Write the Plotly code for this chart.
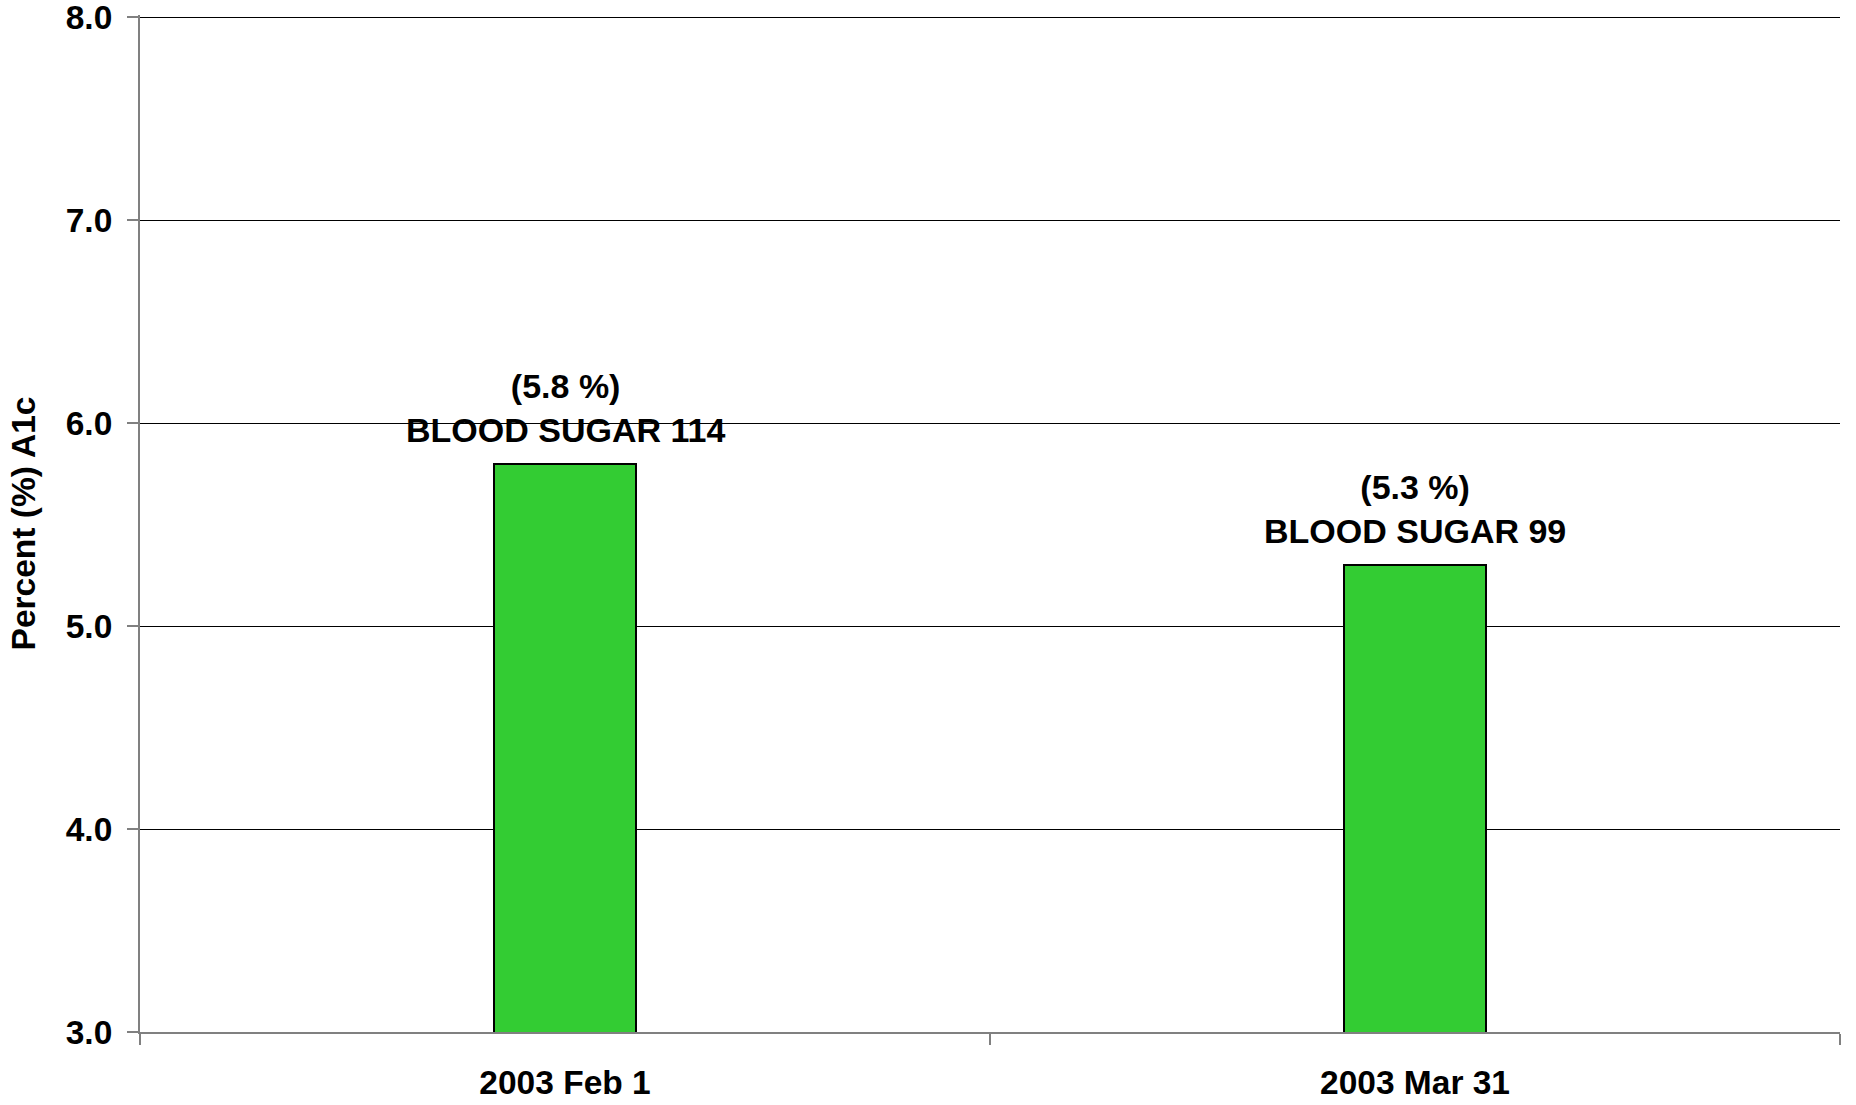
import plotly.graph_objects as go

# A1c readings by test date
dates = ["2003 Feb 1", "2003 Mar 31"]
a1c_percent = [5.8, 5.3]
blood_sugar = [114, 99]
y_ticks = [3.0, 4.0, 5.0, 6.0, 7.0, 8.0]

FONT = "Arial, Liberation Sans, sans-serif"

fig = go.Figure()
fig.add_trace(go.Bar(
    x=dates,
    y=a1c_percent,
    base=0,
    width=0.167,
    marker=dict(color="#33CC33", line=dict(color="#000000", width=2)),
    hoverinfo="skip",
))

for d, v, bs in zip(dates, a1c_percent, blood_sugar):
    fig.add_annotation(
        x=d, y=v, xref="x", yref="y",
        text=f"({v} %)<br>BLOOD SUGAR {bs}",
        showarrow=False, yanchor="bottom", yshift=13,
        font=dict(family=FONT, size=34, color="#000000", weight="bold"),
    )

fig.update_layout(
    width=1856, height=1105,
    margin=dict(l=140, r=16, t=15, b=73),
    paper_bgcolor="#FFFFFF", plot_bgcolor="#FFFFFF",
    showlegend=False,
    bargap=0,
)

fig.update_xaxes(
    type="category",
    tickson="boundaries",
    ticks="outside", ticklen=11, tickwidth=2, tickcolor="#808080",
    showline=True, linecolor="#808080", linewidth=2,
    showgrid=False,
    automargin=False,
    tickfont=dict(family=FONT, size=33.5, color="#000000", weight="bold"),
    ticklabelstandoff=20,
)

fig.update_yaxes(
    range=[3, 8.01],
    tickvals=y_ticks,
    ticktext=[f"{t:.1f}" for t in y_ticks],
    ticks="outside", ticklen=11, tickwidth=2, tickcolor="#808080",
    showline=True, linecolor="#808080", linewidth=2,
    showgrid=True, gridcolor="#000000", gridwidth=1,
    zeroline=False,
    automargin=False,
    ticklabeloverflow="allow",
    tickfont=dict(family=FONT, size=33.5, color="#000000", weight="bold"),
    ticklabelstandoff=8,
    title=dict(text="Percent (%) A1c", standoff=20,
               font=dict(family=FONT, size=33.5, color="#000000", weight="bold")),
)

fig.write_html("out.html")
